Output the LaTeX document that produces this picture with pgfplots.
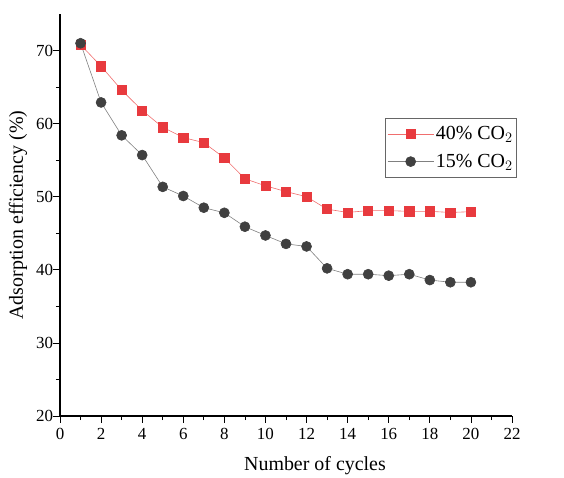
\documentclass[border=0pt]{standalone}
\usepackage{fontspec}
\setmainfont{Liberation Serif}
\usepackage{pgfplots}
\pgfplotsset{compat=1.18}
\definecolor{cred}{RGB}{232,58,62}
\definecolor{credline}{RGB}{240,110,110}
\definecolor{cdark}{RGB}{64,64,64}
\begin{document}
\begin{tikzpicture}
\begin{axis}[
  scale only axis, width=452bp, height=402bp,
  xmin=0, xmax=22, ymin=20, ymax=75,
  axis x line*=bottom, axis y line*=left,
  axis line style={-, line width=1.1pt},
  xtick={0,2,...,22}, ytick={20,30,...,70},
  minor x tick num=1, minor y tick num=1,
  tick align=outside, major tick length=6.5bp, minor tick length=4bp,
  tick style={line width=0.8pt, black},
  /pgf/number format/assume math mode=true,
  ticklabel style={font=\fontsize{17}{17}\selectfont},
  xticklabel style={yshift=-2bp},
  yticklabel style={xshift=3bp},
  xlabel={Number of cycles}, ylabel={Adsorption efficiency (\%)},
  label style={font=\fontsize{20}{20}\selectfont},
  xlabel style={yshift=-10bp, xshift=29bp},
  ylabel style={yshift=2bp},
  legend style={at={(0.719,0.741)}, anchor=north west, draw=black!60, line width=0.8pt,
    font=\fontsize{20}{22}\selectfont, inner xsep=2pt, inner ysep=6pt, row sep=9bp},
  legend cell align=left,
  legend image code/.code={
    \draw[mark repeat=2, mark phase=2, #1] plot coordinates {(0bp,0bp) (23bp,0bp) (46bp,0bp)};
  },
]
\addplot[credline, line width=0.6pt, mark=square*, mark size=4.6bp, mark options={fill=cred, draw=cred}] coordinates {
(1,70.8) (2,67.85) (3,64.6) (4,61.8) (5,59.5) (6,58.1) (7,57.4) (8,55.3) (9,52.45) (10,51.5)
(11,50.7) (12,50.0) (13,48.3) (14,47.85) (15,48.1) (16,48.1) (17,48.0) (18,48.0) (19,47.85) (20,47.95)};
\addlegendentry{40\% CO$_2$}
\addplot[gray, line width=0.6pt, mark=*, mark size=5bp, mark options={fill=cdark, draw=cdark}] coordinates {
(1,71.0) (2,62.9) (3,58.4) (4,55.7) (5,51.35) (6,50.1) (7,48.5) (8,47.8) (9,45.9) (10,44.7)
(11,43.55) (12,43.2) (13,40.2) (14,39.4) (15,39.4) (16,39.2) (17,39.4) (18,38.6) (19,38.3) (20,38.3)};
\addlegendentry{15\% CO$_2$}
\coordinate (bl) at (rel axis cs:0,0);
\coordinate (tr) at (rel axis cs:1,1);
\end{axis}
\pgfresetboundingbox
\path ([shift={(-60bp,-62bp)}]bl) rectangle ([shift={(52bp,14bp)}]tr);
\end{tikzpicture}
\end{document}
